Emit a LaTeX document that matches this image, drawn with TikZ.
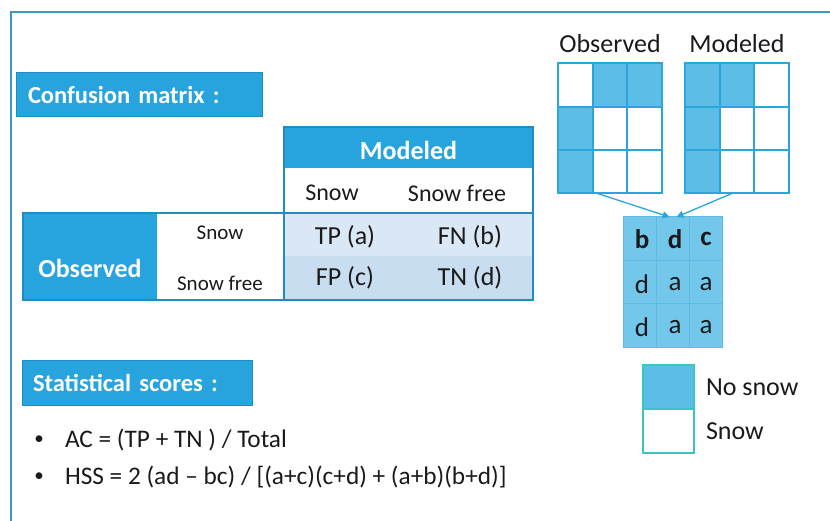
\documentclass[tikz,border=0pt]{standalone}
\usepackage{fontspec}
\setmainfont{Carlito}
\usetikzlibrary{positioning,arrows.meta}
\definecolor{framecol}{HTML}{3B9BBF}
\definecolor{headblue}{HTML}{27A4DE}
\definecolor{tableline}{HTML}{1F8DC4}
\definecolor{cellblue}{HTML}{5CBEE6}
\definecolor{gridline}{HTML}{2AA6DC}
\definecolor{mixblue}{HTML}{72C7EB}
\definecolor{mixline}{HTML}{5ABDE3}
\definecolor{lightrow}{HTML}{DAE8F5}
\definecolor{darkrow}{HTML}{C9DDF0}
\definecolor{legline}{HTML}{3CC4C4}
\definecolor{inkcol}{HTML}{1A1A1A}
\begin{document}
\begin{tikzpicture}[
        x=1pt, y=-1pt,
        every node/.style={inner sep=0pt, outer sep=0pt, text=inkcol},
        titlebox/.style={fill=headblue, draw=tableline, text=white, align=left,
                minimum height=44, inner xsep=12pt, font=\fontsize{24.5}{28}\selectfont\bfseries},
        headcell/.style={fill=headblue, text=white, font=\fontsize{26}{30}\selectfont\bfseries},
        coltext/.style={font=\fontsize{24}{28}\selectfont},
        rowtext/.style={font=\fontsize{21}{24}\selectfont},
        celltext/.style={font=\fontsize{26}{30}\selectfont},
        gridcap/.style={font=\fontsize{26}{30}\selectfont},
        gridbox/.style={draw=gridline, line width=1.2pt, minimum width=104, minimum height=130},
        mixtext/.style={font=\fontsize{27}{30}\selectfont},
        legbox/.style={draw=legline, line width=1.2pt, minimum width=51, minimum height=44},
        legtext/.style={font=\fontsize{26}{30}\selectfont},
        scoretext/.style={font=\fontsize{25.3}{29}\selectfont, anchor=west},
        arr/.style={draw=gridline, line width=1.3pt, -{Triangle[length=7pt, width=7pt]}}
    ]
    \useasboundingbox (0,0) rectangle (830,521);
    \draw[framecol, line width=2pt] (11,521) -- (11,12) -- (830,12);

    \node[titlebox, text width=222pt] (cmtitle) at (139,94.5) {Confusion matrix :};

    \node[headcell, minimum width=249, minimum height=41] (modhead) at (408.5,147.5) {};
    \node[headcell] (modtext) at (408.5,150) {Modeled};
    \node[minimum width=249, minimum height=45] (modsub) at (408.5,190.5) {};
    \node[coltext] (colsnow) at (332,193) {Snow};
    \node[coltext] (colfree) at (457,193) {Snow free};
    \node[fill=lightrow, minimum width=249, minimum height=43.5] (rowtop) at (408.5,234.75) {};
    \node[fill=darkrow, minimum width=249, minimum height=43.5] (rowbot) at (408.5,278.25) {};
    \node[headcell, minimum width=134, minimum height=87] (obshead) at (90,256.5) {};
    \node[headcell] (obstext) at (90,268) {Observed};
    \draw[tableline, line width=1.2pt] (modhead.north west) rectangle (rowbot.south east);
    \draw[tableline, line width=1.2pt] (obshead.north west) rectangle (rowbot.south east);
    \node[rowtext] (rowsnow) at (220,233) {Snow};
    \node[rowtext] (rowfree) at (220,283) {Snow free};
    \node[celltext] (tp) at (345,237) {TP (a)};
    \node[celltext] (fn) at (470,237) {FN (b)};
    \node[celltext] (fp) at (345,278) {FP (c)};
    \node[celltext] (tn) at (470,278) {TN (d)};

    \node[titlebox, text width=208pt, inner xsep=11pt, minimum height=45] (sstitle) at (137,382.5) {Statistical scores :};
    \node[font=\fontsize{19}{22}\selectfont] (bul1) at (39,440) {\textbullet};
    \node[scoretext] (acline) at (65,440) {AC = (TP + TN ) / Total};
    \node[font=\fontsize{19}{22}\selectfont] (bul2) at (39,477) {\textbullet};
    \node[scoretext] (hssline) at (65,477) {HSS = 2 (ad – bc) / [(a+c)(c+d) + (a+b)(b+d)]};

    \fill[cellblue] (593,63) rectangle (662,107) (558,107) rectangle (593,193);
    \fill[cellblue] (686,63) rectangle (754,107) (686,107) rectangle (720,193);
    \node[gridbox] (obsgrid) at (610,128) {};
    \node[gridbox] (modgrid) at (737,128) {};
    \draw[gridline, line width=1.2pt] (593,63) -- (593,193) (627,63) -- (627,193)
        (558,107) -- (662,107) (558,150) -- (662,150);
    \draw[gridline, line width=1.2pt] (720,63) -- (720,193) (754,63) -- (754,193)
        (686,107) -- (788,107) (686,150) -- (788,150);
    \node[gridcap, above=10pt of obsgrid] (obscap) {Observed};
    \node[gridcap, above=10pt of modgrid] (modcap) {Modeled};

    \node[fill=mixblue, draw=mixline, line width=1pt, minimum width=99, minimum height=130] (mixgrid) at (672.5,282) {};
    \draw[mixline, line width=0.8pt] (656,217) -- (656,347) (689,217) -- (689,347)
        (623,260) -- (722,260) (623,303) -- (722,303);
    \node[mixtext] (m11) at (642,239) {\bfseries b};
    \node[mixtext] (m12) at (675,239) {\bfseries d};
    \node[mixtext] (m13) at (706,239) {\bfseries c};
    \node[mixtext] (m21) at (642,284) {d};
    \node[mixtext] (m22) at (675,284) {a};
    \node[mixtext] (m23) at (706,284) {a};
    \node[mixtext] (m31) at (642,327) {d};
    \node[mixtext] (m32) at (675,327) {a};
    \node[mixtext] (m33) at (706,327) {a};
    \draw[arr] ([xshift=-14pt]obsgrid.south) -- ([xshift=-3pt]mixgrid.north);
    \draw[arr] ([xshift=-4pt]modgrid.south) -- ([xshift=4pt]mixgrid.north);

    \node[legbox, fill=cellblue] (legno) at (668.5,387) {};
    \node[legbox] (legsnow) at (668.5,431) {};
    \node[legtext, right=12pt of legno] (legnotext) {No snow};
    \node[legtext, right=12pt of legsnow] (legsnowtext) {Snow};
\end{tikzpicture}
\end{document}
